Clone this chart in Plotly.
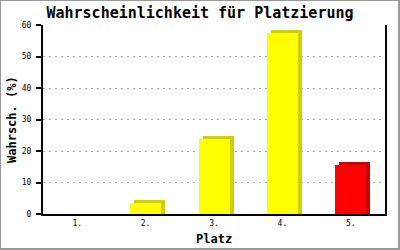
import plotly.graph_objects as go

# Data
categories = ["1.", "2.", "3.", "4.", "5."]
values = [0, 3.6, 23.7, 57.5, 15.6]
front_colors = ["#FFFF00", "#FFFF00", "#FFFF00", "#FFFF00", "#FF0000"]
side_colors = ["#D0D000", "#D0D000", "#D0D000", "#D0D000", "#CC0000"]

W, H = 400, 250
ML, MR, MT, MB = 43, 15, 25, 36
plot_w = W - ML - MR
plot_h = H - MT - MB
ymax = 60
n = len(categories)

px_per_cat = plot_w / n
bar_w = 31 / px_per_cat
dx = 4 / px_per_cat
dy = 3 / plot_h * ymax

side_y = [v + dy if v > 0 else 0 for v in values]

fig = go.Figure()
fig.add_trace(go.Bar(
    x=categories, y=side_y, base=0,
    width=bar_w, offset=-bar_w / 2 + dx,
    marker=dict(color=side_colors, line=dict(width=0)),
    hoverinfo="skip", showlegend=False,
))
fig.add_trace(go.Bar(
    x=categories, y=values,
    width=bar_w, offset=-bar_w / 2,
    marker=dict(color=front_colors, line=dict(width=0)),
    showlegend=False,
))

mono = "DejaVu Sans Mono"

def px_x(p):
    return (p - ML) / plot_w

def px_y(p):
    return 1 - (p - MT) / plot_h

fig.update_layout(
    width=W, height=H,
    margin=dict(l=ML, r=MR, t=MT, b=MB, pad=0),
    paper_bgcolor="white", plot_bgcolor="white",
    barmode="overlay", bargap=0,
    title=dict(text="<b>Wahrscheinlichkeit für Platzierung</b>",
               font=dict(family=mono, size=15, color="black"),
               x=0.5, xanchor="center", y=1 - 13 / H, yanchor="middle",
               xref="container", yref="container"),
    xaxis=dict(
        type="category", range=[-0.5, n - 0.5], automargin=False,
        showline=True, linecolor="black", linewidth=2,
        ticks="", showgrid=False, zeroline=False,
        tickfont=dict(family=mono, size=8, color="black"),
    ),
    yaxis=dict(
        range=[0, ymax], dtick=10, automargin=False,
        showline=True, linecolor="black", linewidth=2, mirror=True,
        ticks="outside", ticklen=5, tickwidth=1.5, tickcolor="black",
        showgrid=True, gridcolor="#A8A8A8", gridwidth=1, griddash="2px,4px",
        zeroline=False,
        tickfont=dict(family=mono, size=8, color="black"),
        ticklabelstandoff=3,
    ),
    annotations=[
        dict(text="<b>Platz</b>", xref="paper", yref="paper",
             x=px_x(214), y=px_y(239), xanchor="center", yanchor="middle",
             showarrow=False, font=dict(family=mono, size=12, color="black")),
        dict(text="<b>Wahrsch. (%)</b>", xref="paper", yref="paper",
             x=px_x(12), y=px_y(120), xanchor="center", yanchor="middle",
             textangle=-90, showarrow=False,
             font=dict(family=mono, size=12, color="black")),
    ],
    shapes=[dict(
        type="rect", xref="paper", yref="paper",
        x0=px_x(0), x1=px_x(399), y0=px_y(249), y1=px_y(0),
        line=dict(color="#999999", width=2), fillcolor="rgba(0,0,0,0)", layer="above",
    )],
)

fig.write_html("out.html")
